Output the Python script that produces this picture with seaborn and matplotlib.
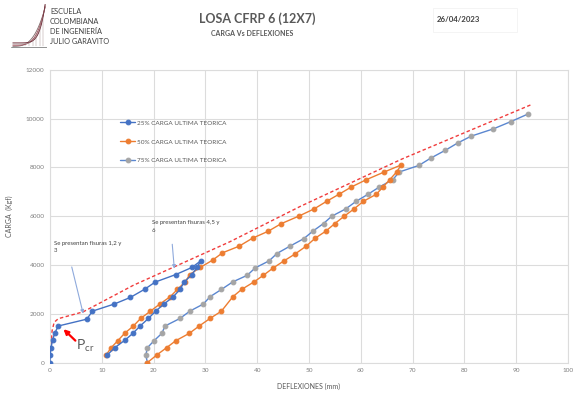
import matplotlib
matplotlib.use("Agg")
import matplotlib.pyplot as plt
import seaborn as sns
import numpy as np
import pandas as pd
from matplotlib.patches import Rectangle

# ---------------- data ----------------
x25 = [0, 0, 0.2, 0.5, 0.9, 1.6, 7.1, 8.2, 12.4, 15.5, 18.3, 20.3, 24.3, 27.4, 29.1,
       28.4, 27.4, 25.9, 25.1, 23.8, 22.0, 20.4, 19.0, 17.4, 16.0, 14.5, 12.5, 11.0]
y25 = [0, 310, 610, 925, 1200, 1500, 1780, 2110, 2400, 2670, 3010, 3300, 3610, 3900, 4170,
       3900, 3610, 3300, 3000, 2700, 2400, 2110, 1810, 1500, 1200, 925, 610, 300]

x50 = [10.8, 11.8, 13.1, 14.4, 16.1, 17.5, 19.4, 21.2, 23.2, 24.6, 26.1, 27.0, 29.0, 31.4,
       33.3, 36.5, 39.1, 42.1, 44.6, 48.0, 51.0, 53.4, 55.8, 58.2, 61.1, 64.5, 67.8,
       66.9, 65.6, 64.3, 63.0, 60.5, 58.7, 56.8, 55.0, 53.2, 51.2, 49.5, 47.3, 45.1,
       43.1, 41.2, 39.4, 37.0, 35.3, 33.1, 30.9, 28.8, 26.9, 24.3, 22.5, 20.6, 18.8]
y50 = [300, 610, 900, 1200, 1500, 1810, 2110, 2400, 2700, 3000, 3310, 3610, 3900, 4200,
       4500, 4770, 5100, 5380, 5690, 6000, 6300, 6610, 6900, 7200, 7500, 7810, 8100,
       7810, 7500, 7200, 6900, 6610, 6300, 6000, 5700, 5380, 5100, 4780, 4450, 4160,
       3880, 3580, 3310, 3000, 2700, 2110, 1810, 1500, 1200, 900, 610, 310, 0]

x75 = [18.8, 18.5, 18.8, 20.1, 21.6, 22.2, 25.1, 27.0, 29.6, 30.9, 33.1, 35.3, 38.1, 39.6,
       42.3, 43.8, 46.3, 49.0, 50.7, 52.8, 54.4, 57.1, 59.1, 61.4, 63.6, 66.2, 67.4,
       71.2, 73.5, 76.3, 78.7, 81.3, 85.6, 89.0, 92.3]
y75 = [0, 310, 610, 900, 1200, 1500, 1810, 2110, 2400, 2700, 3000, 3310, 3580, 3880,
       4170, 4470, 4770, 5080, 5380, 5700, 6000, 6300, 6610, 6900, 7200, 7500, 7810,
       8080, 8380, 8700, 9000, 9280, 9580, 9880, 10190]

x_teo = [0, 0.4, 0.8, 1.6, 6.4, 16.1, 34.7, 48.3, 67.8, 93.0]
y_teo = [0, 1300, 1650, 1800, 2080, 3170, 4950, 6400, 8330, 10580]

labels = ["25% CARGA ULTIMA TEORICA", "50% CARGA ULTIMA TEORICA", "75% CARGA ULTIMA TEORICA"]
x_ticks = list(range(0, 101, 10))
y_ticks = list(range(0, 12001, 2000))

# ---------------- style ----------------
sns.set_style("white")
plt.rcParams['font.family'] = ['Lato', 'DejaVu Sans']

W, H = 576, 401
fig = plt.figure(figsize=(W / 100, H / 100), dpi=100)
ax = fig.add_axes([50 / W, 1 - 362.6 / H, (568 - 50) / W, (362.6 - 69.8) / H])

grey_txt = "#595959"
blue = "#4472C4"
orange = "#ED7D31"
line75 = "#5B87D0"
mk75 = "#A5A5A5"

lw = 1.0
ms = 3.4

d25 = pd.DataFrame({"x": x25, "y": y25})
d50 = pd.DataFrame({"x": x50, "y": y50})
d75 = pd.DataFrame({"x": x75, "y": y75})
dt = pd.DataFrame({"x": x_teo, "y": y_teo})

sns.lineplot(data=dt, x="x", y="y", sort=False, estimator=None, ax=ax,
             color="#F03C3C", linewidth=1.0, linestyle=(0, (2.5, 1.8)), zorder=2)
sns.lineplot(data=d75, x="x", y="y", sort=False, estimator=None, ax=ax, color=line75,
             linewidth=lw, marker="o", markersize=ms, markerfacecolor=mk75,
             markeredgecolor=mk75, label=labels[2], zorder=3)
sns.lineplot(data=d50, x="x", y="y", sort=False, estimator=None, ax=ax, color=orange,
             linewidth=lw, marker="o", markersize=ms, markerfacecolor=orange,
             markeredgecolor=orange, label=labels[1], zorder=4)
sns.lineplot(data=d25, x="x", y="y", sort=False, estimator=None, ax=ax, color=blue,
             linewidth=lw, marker="o", markersize=ms, markerfacecolor=blue,
             markeredgecolor=blue, label=labels[0], zorder=5)

ax.set_xlim(0, 100)
ax.set_ylim(0, 12000)
ax.set_xticks(x_ticks)
ax.set_yticks(y_ticks)
ax.set_xticklabels([str(v) for v in x_ticks])
ax.set_yticklabels([str(v) for v in y_ticks])
ax.grid(True, color="#DCDCDC", linewidth=0.8)
ax.set_axisbelow(True)
for s in ax.spines.values():
    s.set_color("#DCDCDC")
    s.set_linewidth(0.8)
ax.tick_params(axis="both", length=0, labelsize=4.6, colors="#7F7F7F", pad=4)
ax.set_xlabel("DEFLEXIONES (mm)", fontsize=5, color=grey_txt, labelpad=7)
ax.set_ylabel("CARGA  (Kgf)", fontsize=5, color=grey_txt, labelpad=9)

# legend
h, l = ax.get_legend_handles_labels()
hd = dict(zip(l, h))
leg = ax.legend([hd[t] for t in labels], labels, loc="upper left",
                bbox_to_anchor=(117 / W, 1 - 117 / H), bbox_transform=fig.transFigure,
                frameon=False, fontsize=4.6, handlelength=2.3, handletextpad=0.3,
                labelspacing=2.1, borderpad=0)
for t in leg.get_texts():
    t.set_color(grey_txt)

# annotations
ax.text(0.77, 4990, "Se presentan fisuras 1,2 y\n3", fontsize=4.3, color="#404040",
        ha="left", va="top", linespacing=1.6)
ax.annotate("", xy=(6.4, 2010), xytext=(4.2, 3920),
            arrowprops=dict(arrowstyle="-|>", color="#8FAADC", lw=0.8,
                            mutation_scale=5, shrinkA=0, shrinkB=0))
ax.text(19.6, 5840, "Se presentan fisuras 4,5 y\n6", fontsize=4.3, color="#404040",
        ha="left", va="top", linespacing=1.6)
ax.annotate("", xy=(24.0, 3850), xytext=(23.6, 4850),
            arrowprops=dict(arrowstyle="-|>", color="#8FAADC", lw=0.8,
                            mutation_scale=5, shrinkA=0, shrinkB=0))
ax.annotate("", xy=(2.6, 1370), xytext=(4.9, 900),
            arrowprops=dict(arrowstyle="-|>", color="#FF0000", lw=1.6,
                            mutation_scale=7, shrinkA=0, shrinkB=0))
ax.text(5.0, 700, r"$\mathregular{P_{cr}}$", fontsize=10, color=grey_txt,
        ha="left", va="center")

# header texts
fig.text(257 / W, 1 - 19 / H, "LOSA CFRP 6 (12X7)", fontsize=9, fontweight="bold",
         color=grey_txt, ha="center", va="center")
fig.text(252 / W, 1 - 33 / H, "CARGA Vs DEFLEXIONES", fontsize=5, fontweight="bold",
         color=grey_txt, ha="center", va="center")
fig.text(437 / W, 1 - 19 / H, "26/04/2023", fontsize=5.6, fontweight="bold",
         color="#404040", ha="left", va="center")
fig.patches.append(Rectangle((433 / W, 1 - 32 / H), 84 / W, 24 / H,
                             transform=fig.transFigure, fill=False,
                             edgecolor="#F2F2F2", linewidth=0.6))

# logo
for i, t in enumerate(["ESCUELA", "COLOMBIANA", "DE INGENIERÍA", "JULIO GARAVITO"]):
    fig.text(50 / W, 1 - (12 + 10 * i) / H, t, fontsize=5.3, color="#404040",
             ha="left", va="center")
lax = fig.add_axes([11 / W, 1 - 50 / H, 36 / W, 46 / H])
lax.set_xlim(0, 1)
lax.set_ylim(0, 1)
lax.axis("off")
tt = np.linspace(0, 1, 50)
for k, c in enumerate(["#7F6A6A", "#9C3A4A", "#B0A0A0", "#6E2A36"]):
    off = 0.05 * k
    lax.plot(0.05 + 0.9 * tt, 0.08 + off * 0.5 + 0.85 * tt ** (3 + k), color=c, lw=0.6)
for xv in np.linspace(0.3, 0.9, 7):
    lax.plot([xv, xv], [0.08, 0.08 + 0.85 * xv ** 3], color="#A08888", lw=0.3)
lax.plot([0.0, 1.0], [0.06, 0.06], color="#808080", lw=0.6)

fig.savefig("out.png", dpi=100)
